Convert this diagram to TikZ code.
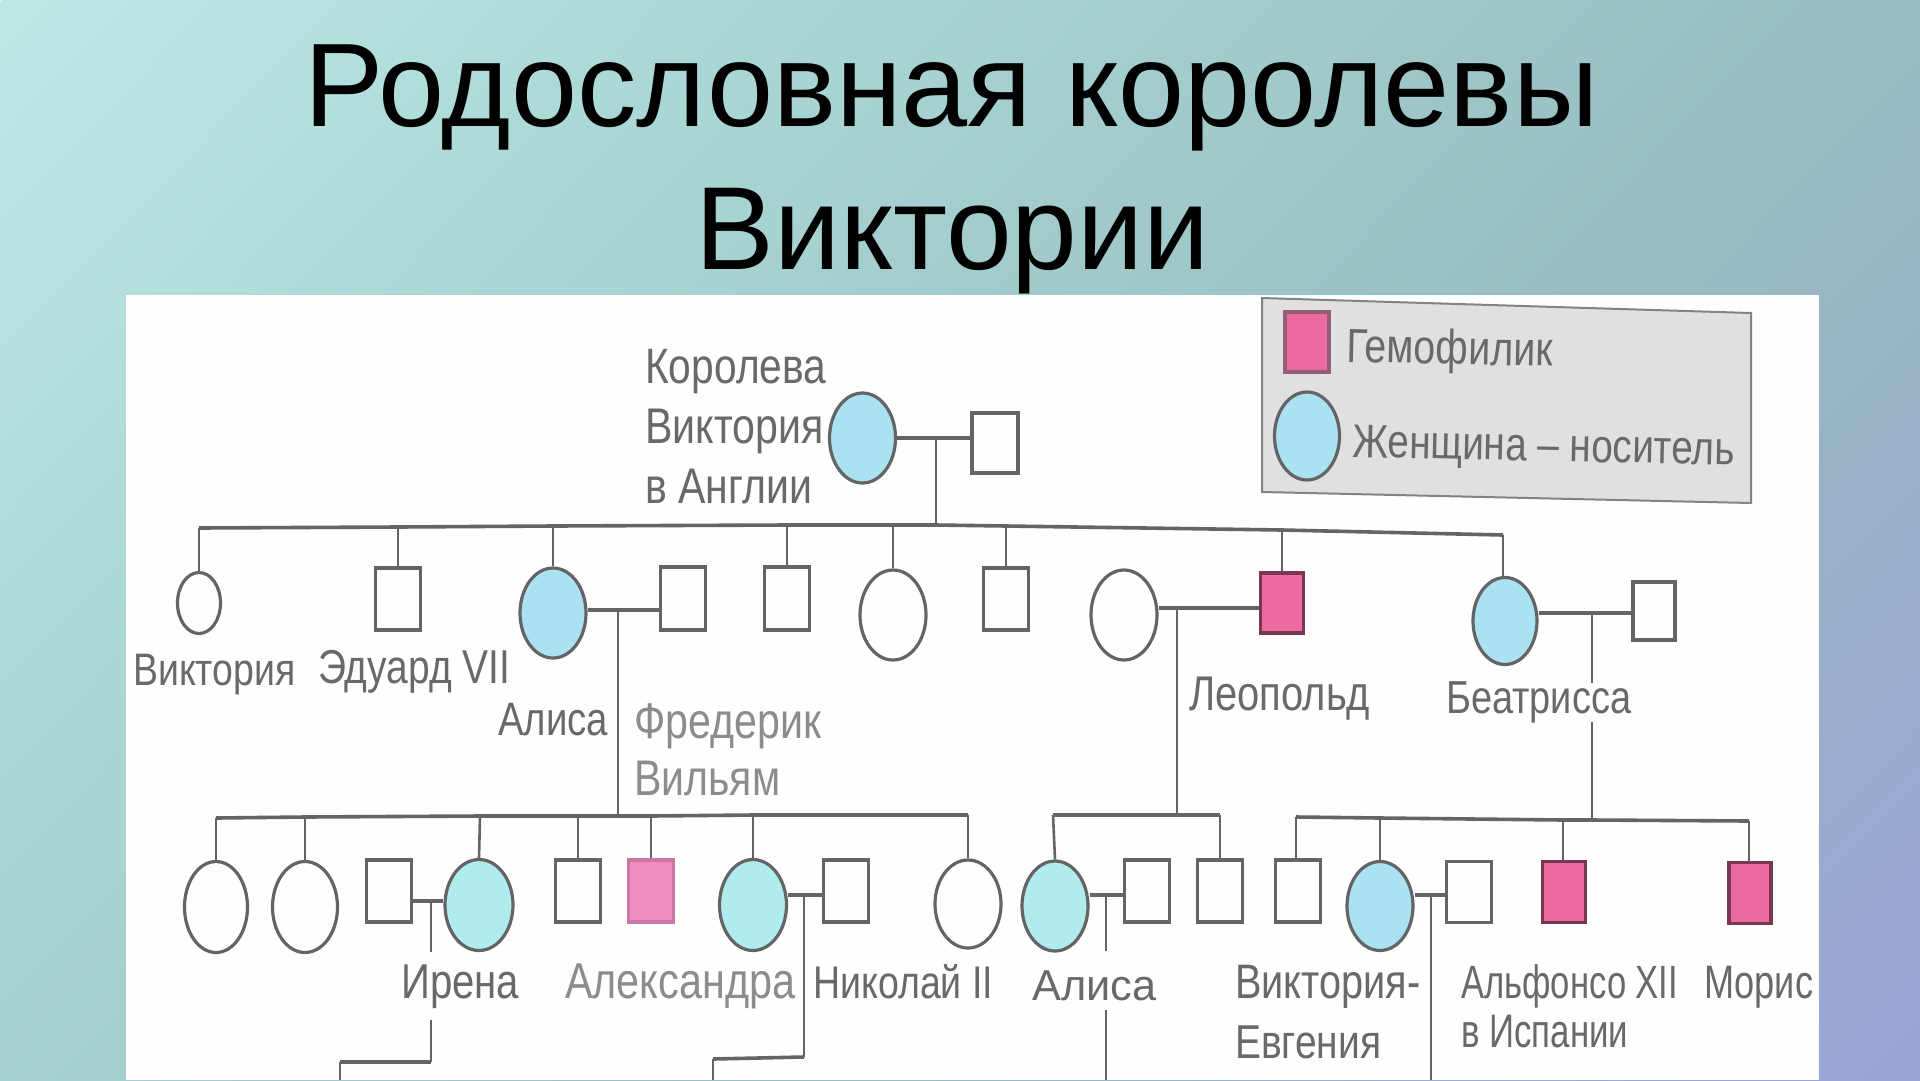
\documentclass[tikz,border=0pt]{standalone}
\usepackage{fontspec}
\usepackage{graphicx}
\setmainfont{Liberation Sans}
\usetikzlibrary{shapes.geometric}
\definecolor{linec}{RGB}{98,100,102}
\definecolor{textc}{RGB}{105,105,108}
\definecolor{textl}{RGB}{140,140,142}
\definecolor{carrier}{RGB}{170,226,242}
\definecolor{carrierb}{RGB}{176,236,238}
\definecolor{hemo}{RGB}{236,106,160}
\definecolor{hemol}{RGB}{240,140,192}
\definecolor{hemob}{RGB}{120,55,85}
\definecolor{legendc}{RGB}{224,224,224}
\definecolor{panelc}{RGB}{254,254,253}
\pgfdeclarehorizontalshading{slidebg}{4400pt}{
 rgb(0pt)=(0.75,0.91,0.90);
 rgb(500pt)=(0.67,0.85,0.84);
 rgb(1300pt)=(0.60,0.75,0.76);
 rgb(1700pt)=(0.60,0.69,0.78);
 rgb(2133pt)=(0.61,0.64,0.85)}
\newcommand{\tw}[2]{\resizebox{#1pt}{!}{#2}}
\newcommand{\tn}[2]{\scalebox{1}[1.22]{\resizebox{#1pt}{!}{#2}}}
\tikzset{
 fem/.style={ellipse,draw=linec,line width=3.2pt,fill=panelc,inner sep=0pt,minimum width=66pt,minimum height=90pt},
 femc/.style={fem,fill=carrier},
 femt/.style={fem,fill=carrierb},
 male/.style={rectangle,draw=linec,line width=3.2pt,fill=panelc,inner sep=0pt,minimum width=45pt,minimum height=62pt},
 maleh/.style={male,fill=hemo,draw=hemob},
 malel/.style={male,fill=hemol,draw=hemol!85!black},
 edge/.style={draw=linec,line width=2.6pt},
 bar/.style={draw=linec,line width=3.6pt,line join=round},
 lbl/.style={anchor=base west,inner sep=0pt,text=textc},
 lbll/.style={lbl,text=textl},
 ttl/.style={anchor=base west,inner sep=0pt,text=black}
}
\begin{document}
\begin{tikzpicture}[x=1pt,y=-1pt]
\useasboundingbox (0,0) rectangle (1920,1080);
% background
\begin{scope}
\clip (0,0) rectangle (1920,1080);
\node[rotate=-44,anchor=west,inner sep=0pt] (bgshade) at (0,0) {\pgfuseshading{slidebg}};
\end{scope}
% title
\node[ttl] (t1) at (304,126) {\tw{1294}{Родословная королевы}};
\node[ttl] (t2) at (695,269) {\tw{514}{Виктории}};
% panel
\fill[panelc] (126,295) rectangle (1819,1080);
% legend
\draw[fill=legendc,draw=linec!80,line width=2pt] (1262,298) -- (1751,313) -- (1751,503) -- (1262,492) -- cycle;
\node[maleh,minimum width=44pt,minimum height=60pt,draw=hemob!80] (lh) at (1307,342) {};
\node[femc,minimum width=65pt,minimum height=88pt] (lc) at (1307,436) {};
\node[lbl,rotate=-1.2] (lt1) at (1346,362) {\tn{206}{Гемофилик}};
\node[lbl,rotate=-1.2] (lt2) at (1352,457) {\tn{382}{Женщина – носитель}};
% generation I
\node[femc] (qv) at (862.5,438) {};
\node[male,minimum width=46pt,minimum height=60pt] (qh) at (995,443) {};
\node[lbl] (q1) at (645,383) {\tn{181}{Королева}};
\node[lbl] (q2) at (645,443) {\tn{178}{Виктория}};
\node[lbl] (q3) at (645,503) {\tn{167}{в Англии}};
\coordinate (mq) at (936,438);
\draw[bar] (qv.east |- mq) -- (qh.west |- mq);
% generation II bar
\coordinate (g2a) at (199,528);
\coordinate (g2b) at (398,527);
\coordinate (g2c) at (553,526);
\coordinate (g2d) at (787,525);
\coordinate (g2e) at (893,525);
\coordinate (g2q) at (936,525);
\coordinate (g2f) at (1006,526);
\coordinate (g2g) at (1282,530);
\coordinate (g2h) at (1503,535);
\draw[bar] (g2a) -- (g2b) -- (g2c) -- (g2d) -- (g2e) -- (g2q) -- (g2f) -- (g2g) -- (g2h);
\draw[edge] (mq) -- (g2q);
% generation II
\node[fem,minimum width=43pt,minimum height=61pt] (c1) at (199,603) {};
\node[male,minimum height=62pt] (c2) at (398,599) {};
\node[femc] (c3) at (553,613) {};
\node[male,minimum height=63pt] (c3h) at (683,598.5) {};
\node[male,minimum height=63pt] (c4) at (787,598.5) {};
\node[fem] (c5) at (893,615) {};
\node[male,minimum height=62pt] (c6) at (1006,599) {};
\node[fem] (c7w) at (1124,615) {};
\node[maleh,minimum width=43pt,minimum height=60pt] (c7) at (1282,603) {};
\node[femc,minimum width=64pt,minimum height=87pt] (c8) at (1505,621) {};
\node[male,minimum width=42pt,minimum height=58pt] (c8h) at (1654,611) {};
\draw[edge] (g2a) -- (c1.north);
\draw[edge] (g2b) -- (c2.north);
\draw[edge] (g2c) -- (c3.north);
\draw[edge] (g2d) -- (c4.north);
\draw[edge] (g2e) -- (c5.north);
\draw[edge] (g2f) -- (c6.north);
\draw[edge] (g2g) -- (c7.north);
\draw[edge] (g2h) -- (c8.north -| g2h);
\coordinate (m3) at (618,610);
\coordinate (m7) at (1177,608);
\coordinate (m8) at (1592,613);
\coordinate (m8a) at (1592,683);
\coordinate (m8b) at (1592,722);
\draw[bar] (c3.east |- m3) -- (c3h.west |- m3);
\draw[bar] (c7w.east |- m7) -- (c7.west |- m7);
\draw[bar] (c8.east |- m8) -- (c8h.west |- m8);
\node[lbl] (l1) at (133,685) {\tn{162}{Виктория}};
\node[lbl] (l2) at (318,683) {\tn{192}{Эдуард VII}};
\node[lbl] (l3) at (498,735) {\tn{110}{Алиса}};
\node[lbll] (l4) at (634,738) {\tn{187}{Фредерик}};
\node[lbll] (l5) at (634,795) {\tn{146}{Вильям}};
\node[lbl] (l6) at (1189,710) {\tn{181}{Леопольд}};
\node[lbl] (l7) at (1446,713) {\tn{185}{Беатрисса}};
% generation III bars
\coordinate (a1) at (216,818);
\coordinate (a2) at (305,817);
\coordinate (a3) at (480,816);
\coordinate (a4) at (578,816);
\coordinate (a5) at (651,816);
\coordinate (am) at (618,816);
\coordinate (a6) at (753,815);
\coordinate (a7) at (968,815);
\draw[bar] (a1) -- (a2) -- (a3) -- (am) -- (a4) -- (a5) -- (a6) -- (a7);
\draw[edge] (m3) -- (am);
\coordinate (b1) at (1053,815);
\coordinate (bm) at (1177,815);
\coordinate (b2) at (1220,815);
\draw[bar] (b1) -- (bm) -- (b2);
\draw[edge] (m7) -- (bm);
\coordinate (d1) at (1296,817);
\coordinate (d2) at (1380,818);
\coordinate (d3) at (1563,820);
\coordinate (dm) at (1592,820);
\coordinate (d4) at (1749,821);
\draw[bar] (d1) -- (d2) -- (d3) -- (dm) -- (d4);
\draw[edge] (m8) -- (m8a);
\draw[edge] (m8b) -- (dm);
% generation III
\node[fem,minimum width=63pt,minimum height=91pt] (e1) at (216,907) {};
\node[fem,minimum width=65pt,minimum height=91pt] (e2) at (305,907) {};
\node[male] (e3) at (389,891) {};
\node[femt,minimum width=68pt,minimum height=91pt] (e4) at (479,905) {};
\node[male] (e5) at (578,891) {};
\node[malel] (e6) at (651,891) {};
\node[femt,minimum width=67pt,minimum height=91pt] (e7) at (753,905) {};
\node[male] (e8) at (846,891) {};
\node[fem,minimum width=66pt,minimum height=88pt] (e9) at (968,904) {};
\node[femc,fill=carrierb,minimum width=66pt,minimum height=90pt] (f1) at (1055,906) {};
\node[male] (f2) at (1147,891) {};
\node[male] (f3) at (1220,891) {};
\node[male] (f4) at (1298,891) {};
\node[femc,minimum width=66pt,minimum height=89pt] (f5) at (1380,906) {};
\node[male,minimum height=61pt] (f6) at (1469,892) {};
\node[maleh,minimum width=43pt,minimum height=61pt] (f7) at (1564,892) {};
\node[maleh,minimum width=42pt,minimum height=61pt] (f8) at (1750,893) {};
\draw[edge] (a1) -- (e1.north);
\draw[edge] (a2) -- (e2.north);
\draw[edge] (a3) -- (e4.north);
\draw[edge] (a4) -- (e5.north);
\draw[edge] (a5) -- (e6.north);
\draw[edge] (a6) -- (e7.north);
\draw[edge] (a7) -- (e9.north);
\draw[edge] (b1) -- (f1.north);
\draw[edge] (b2) -- (f3.north);
\draw[edge] (d1) -- (f4.north -| d1);
\draw[edge] (d2) -- (f5.north);
\draw[edge] (d3) -- (f7.north -| d3);
\draw[edge] (d4) -- (f8.north -| d4);
% marriages and descent, generation III
\coordinate (me) at (431,901);
\coordinate (mea) at (431,952);
\coordinate (meb) at (431,1020);
\coordinate (mec) at (431,1062);
\coordinate (med) at (340,1062);
\coordinate (mee) at (340,1080);
\draw[bar] (e3.east |- me) -- (e4.west |- me);
\draw[edge] (me) -- (mea);
\draw[edge] (meb) -- (mec);
\draw[bar] (mec) -- (med);
\draw[edge] (med) -- (mee);
\coordinate (ma) at (804,895);
\coordinate (mab) at (804,1057);
\coordinate (mac) at (713,1059);
\coordinate (mad) at (713,1080);
\draw[bar] (e7.east |- ma) -- (e8.west |- ma);
\draw[edge] (ma) -- (mab);
\draw[bar] (mab) -- (mac);
\draw[edge] (mac) -- (mad);
\coordinate (mf) at (1106,895);
\coordinate (mfa) at (1106,951);
\coordinate (mfb) at (1106,1010);
\coordinate (mfc) at (1106,1080);
\draw[bar] (f1.east |- mf) -- (f2.west |- mf);
\draw[edge] (mf) -- (mfa);
\draw[edge] (mfb) -- (mfc);
\coordinate (mv) at (1431,895);
\coordinate (mva) at (1431,1080);
\draw[bar] (f5.east |- mv) -- (f6.west |- mv);
\draw[edge] (mv) -- (mva);
% labels, generation III
\node[lbl] (n1) at (401,998) {\tn{118}{Ирена}};
\node[lbll] (n2) at (565,998) {\tn{230}{Александра}};
\node[lbl] (n3) at (813,998) {\tn{180}{Николай II}};
\node[lbl] (n4) at (1032,1000) {\scalebox{1}[1.0]{\tw{124}{Алиса}}};
\node[lbl] (n5) at (1235,998) {\tn{185}{Виктория-}};
\node[lbl] (n6) at (1235,1058) {\tn{146}{Евгения}};
\node[lbl] (n7) at (1461,998) {\scalebox{1}[1.35]{\tw{217}{Альфонсо XII}}};
\node[lbl] (n8) at (1461,1047) {\scalebox{1}[1.35]{\tw{167}{в Испании}}};
\node[lbl] (n9) at (1704,998) {\scalebox{1}[1.3]{\tw{109}{Морис}}};
\end{tikzpicture}
\end{document}
